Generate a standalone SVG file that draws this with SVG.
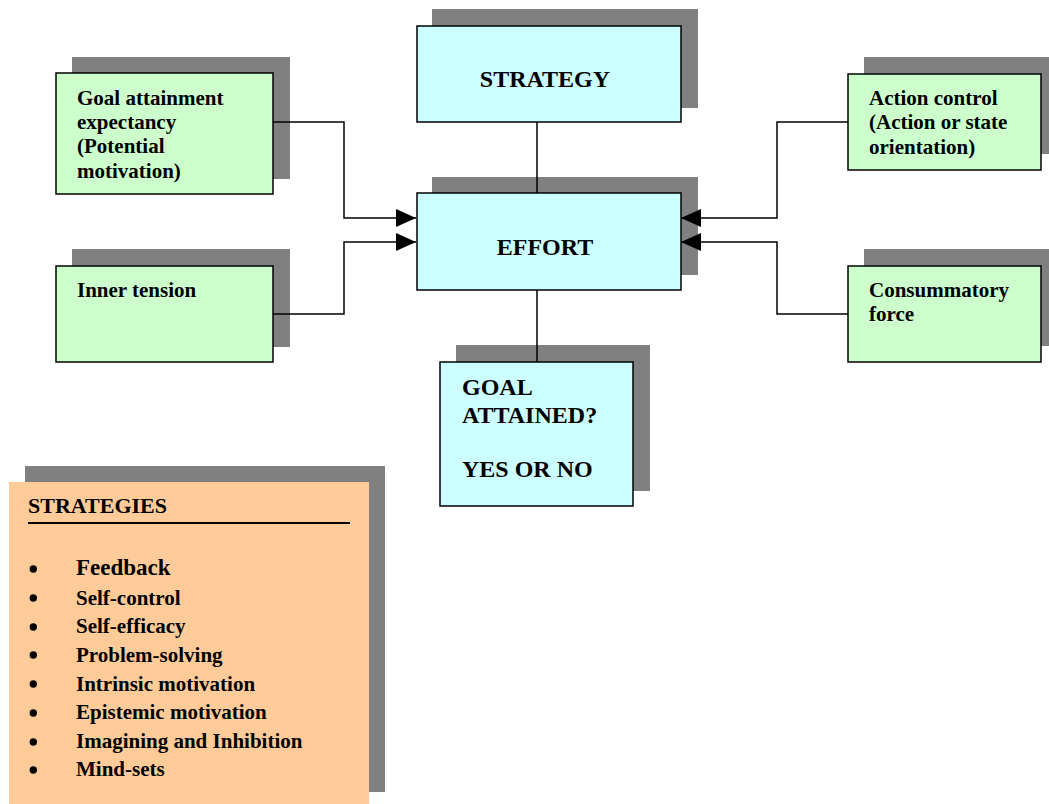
<svg xmlns="http://www.w3.org/2000/svg" width="1049" height="804" viewBox="0 0 1049 804">
<style>
text{font-family:"Liberation Serif","Times New Roman",serif;font-weight:bold;fill:#000}
.sh{fill:#808080}
.g{fill:#CCFFCC;stroke:#000;stroke-width:1.5}
.c{fill:#CCFFFF;stroke:#000;stroke-width:1.5}
.o{fill:#FFCC99}
.t21{font-size:21px}
.t24{font-size:24px}
.ln{fill:none;stroke:#000;stroke-width:1.5}
.bl{fill:#000}
</style>
<defs>
<marker id="ah" markerUnits="userSpaceOnUse" markerWidth="20" markerHeight="18" refX="20" refY="9" orient="auto">
<path d="M0,0 L20,9 L0,18 Z" fill="#000"/>
</marker>
</defs>
<rect width="1049" height="804" fill="#fff"/>
<g id="strategy">
<rect class="sh" x="432" y="9" width="266" height="99"/>
<rect class="c" x="417" y="26" width="264" height="96"/>
<text class="t24" x="545" y="87" text-anchor="middle">STRATEGY</text>
</g>
<g id="effort">
<rect class="sh" x="432" y="177" width="266" height="98"/>
<rect class="c" x="417" y="193" width="264" height="97"/>
<text class="t24" x="545" y="255" text-anchor="middle">EFFORT</text>
</g>
<g id="goal-attained">
<rect class="sh" x="456" y="345" width="194" height="146"/>
<rect class="c" x="440" y="362" width="193" height="144"/>
<text class="t24" x="462" y="395">GOAL</text>
<text class="t24" x="462" y="423">ATTAINED?</text>
<text class="t24" x="462" y="477">YES OR NO</text>
</g>
<g id="goal-expectancy">
<rect class="sh" x="72" y="57" width="218" height="122"/>
<rect class="g" x="56" y="73" width="217" height="121"/>
<text class="t21" x="77" y="105">Goal attainment</text>
<text class="t21" x="77" y="129">expectancy</text>
<text class="t21" x="77" y="153">(Potential</text>
<text class="t21" x="77" y="178">motivation)</text>
</g>
<g id="inner-tension">
<rect class="sh" x="72" y="249" width="218" height="98"/>
<rect class="g" x="56" y="266" width="217" height="96"/>
<text class="t21" x="77" y="297">Inner tension</text>
</g>
<g id="action-control">
<rect class="sh" x="864" y="57" width="194" height="97"/>
<rect class="g" x="848" y="74" width="193" height="96"/>
<text class="t21" x="869" y="105">Action control</text>
<text class="t21" x="869" y="129">(Action or state</text>
<text class="t21" x="869" y="154">orientation)</text>
</g>
<g id="consummatory">
<rect class="sh" x="864" y="249" width="194" height="97"/>
<rect class="g" x="848" y="266" width="193" height="96"/>
<text class="t21" x="869" y="297">Consummatory</text>
<text class="t21" x="869" y="321">force</text>
</g>
<g id="strategies">
<rect class="sh" x="25" y="466" width="360" height="326"/>
<rect class="o" x="9" y="482" width="360" height="322"/>
<text class="t21" x="28" y="513" style="font-size:22px">STRATEGIES</text>
<line x1="28" y1="523" x2="350" y2="523" stroke="#000" stroke-width="2"/>
<g class="bl">
<circle cx="33.3" cy="569" r="3.7"/>
<circle cx="33.3" cy="598" r="3.7"/>
<circle cx="33.3" cy="627" r="3.7"/>
<circle cx="33.3" cy="655" r="3.7"/>
<circle cx="33.3" cy="684" r="3.7"/>
<circle cx="33.3" cy="713" r="3.7"/>
<circle cx="33.3" cy="742" r="3.7"/>
<circle cx="33.3" cy="770" r="3.7"/>
</g>
<g class="t21">
<text x="76" y="575" style="font-size:23px">Feedback</text>
<text x="76" y="605">Self-control</text>
<text x="76" y="633">Self-efficacy</text>
<text x="76" y="662">Problem-solving</text>
<text x="76" y="691">Intrinsic motivation</text>
<text x="76" y="719">Epistemic motivation</text>
<text x="76" y="748">Imagining and Inhibition</text>
<text x="76" y="776">Mind-sets</text>
</g>
</g>
<g id="connectors">
<path class="ln" d="M273,122 H344 V218 H416" marker-end="url(#ah)"/>
<path class="ln" d="M273,314 H344 V242 H416" marker-end="url(#ah)"/>
<path class="ln" d="M848,122 H777 V218 H681" marker-end="url(#ah)"/>
<path class="ln" d="M848,314 H777 V242 H681" marker-end="url(#ah)"/>
<path class="ln" d="M537,122 V193"/>
<path class="ln" d="M537,290 V362"/>
</g>
</svg>
